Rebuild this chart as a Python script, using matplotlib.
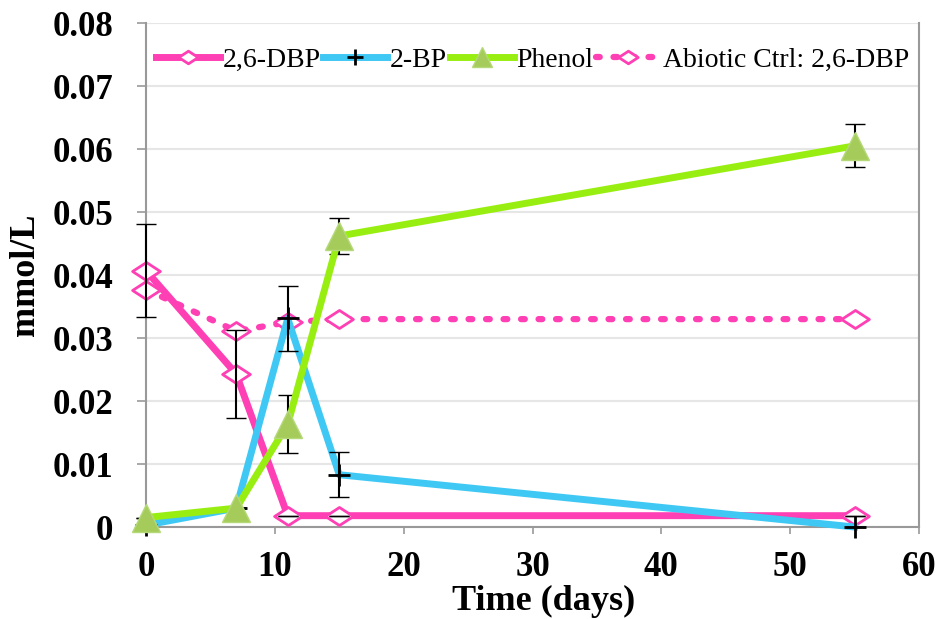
import numpy as np
import matplotlib.pyplot as plt
from matplotlib.path import Path

plt.rcParams['font.family'] = ['Liberation Serif', 'DejaVu Serif']

days = [0, 7, 11, 15, 55]
dbp = [0.0407, 0.0243, 0.0018, 0.0018, 0.0018]
dbp_err = [0.0074, 0.0070, 0, 0, 0]
bp = [0.0003, 0.003, 0.0331, 0.0083, 0.0]
bp_err = [0, 0, 0.0051, 0.0036, 0]
phenol = [0.0015, 0.003, 0.0163, 0.0462, 0.0605]
phenol_err = [0, 0, 0.0046, 0.0029, 0.0034]
abiotic = [0.0377, 0.0311, 0.0325, 0.033, 0.033]

pink = '#ff3fb4'
blue = '#40c8f4'
green = '#99ee11'

# wide flat diamond like the original markers
diamond = Path([(-1, 0), (0, 0.65), (1, 0), (0, -0.65), (-1, 0)],
               [Path.MOVETO, Path.LINETO, Path.LINETO, Path.LINETO, Path.CLOSEPOLY])

fig = plt.figure(figsize=(9.42, 6.19), dpi=100)
ax = fig.add_axes([0.155, 0.1486, 0.8206, 0.8142])

ax.errorbar(days, dbp, yerr=dbp_err, fmt='none', ecolor='black', elinewidth=1.5, capsize=7, zorder=5, clip_on=False)
ax.errorbar(days, bp, yerr=bp_err, fmt='none', ecolor='black', elinewidth=1.5, capsize=7, zorder=5, clip_on=False)
ax.errorbar(days, phenol, yerr=phenol_err, fmt='none', ecolor='black', elinewidth=1.5, capsize=7, zorder=5, clip_on=False)

ax.plot(days, abiotic, color=pink, linestyle=(0, (0.6, 2.2)), linewidth=4.5, dash_capstyle='round',
        marker=diamond, markersize=20, markerfacecolor='white', markeredgecolor=pink, markeredgewidth=2,
        label='Abiotic Ctrl: 2,6-DBP', zorder=3, clip_on=False)
ax.plot(days, dbp, color=pink, linewidth=5, marker=diamond, markersize=20, markerfacecolor='white',
        markeredgecolor=pink, markeredgewidth=2, label='2,6-DBP', zorder=4, clip_on=False)
ax.plot(days, bp, color=blue, linewidth=5, marker='+', markersize=16, markeredgecolor='black',
        markeredgewidth=2, label='2-BP', zorder=4, clip_on=False)
ax.plot(days, phenol, color=green, linewidth=5, marker='^', markersize=20, markerfacecolor='#a5cc5a',
        markeredgecolor='#b5d97a', label='Phenol', zorder=6, clip_on=False)

ax.set_xlim(0, 60)
ax.set_ylim(0, 0.08)
ax.set_xticks([0, 10, 20, 30, 40, 50, 60])
ax.set_yticks(np.arange(0, 0.081, 0.01))
ax.set_yticklabels(['0', '0.01', '0.02', '0.03', '0.04', '0.05', '0.06', '0.07', '0.08'])
ax.tick_params(axis='x', labelsize=25, width=1.2, color='#999999', length=5, pad=12)
ax.tick_params(axis='y', labelsize=25, width=1.2, color='#999999', length=6.5, pad=17)
for lab in ax.get_xticklabels() + ax.get_yticklabels():
    lab.set_fontweight('bold')
ax.grid(axis='y', color='#e6e6e6', linewidth=1.5)
ax.set_axisbelow(True)
for s in ['left', 'bottom', 'right']:
    ax.spines[s].set_color('#999999')
    ax.spines[s].set_linewidth(1.5)
ax.spines['top'].set_visible(False)

ax.set_xlabel('Time (days)', fontsize=26, fontweight='bold', labelpad=2)
ax.xaxis.set_label_coords(0.515, -0.115)
ax.set_ylabel('mmol/L', fontsize=26, fontweight='bold', labelpad=8)

h, l = ax.get_legend_handles_labels()
order = [1, 2, 3, 0]
leg = ax.legend([h[i] for i in order], [l[i] for i in order], loc='center', ncol=4,
                bbox_to_anchor=(0.5, 0.927), frameon=True, fontsize=20, handlelength=2.3,
                handletextpad=0.1, columnspacing=0.1, borderpad=0.1, markerscale=0.7)
leg.get_frame().set_edgecolor('white')
leg.get_frame().set_facecolor('white')
leg.get_frame().set_alpha(1)
leg.set_zorder(10)

fig.savefig('out.png', dpi=100)
